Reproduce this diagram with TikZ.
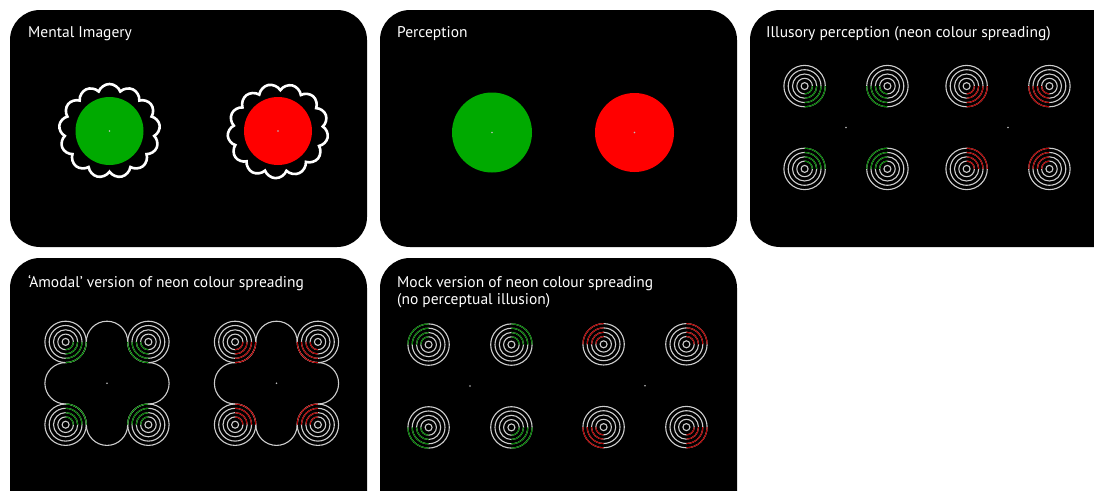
\documentclass[tikz,border=0pt]{standalone}
\usepackage{fontspec}
\setmainfont{PT Sans}
\usetikzlibrary{shapes.symbols}

\definecolor{panelbg}{RGB}{0,0,0}
\definecolor{ringgrey}{RGB}{205,205,205}
\definecolor{neongreen}{RGB}{0,125,0}
\definecolor{neonred}{RGB}{175,0,0}
\definecolor{discgreen}{RGB}{0,170,0}
\definecolor{discred}{RGB}{255,0,0}
\definecolor{dotgrey}{RGB}{190,190,190}

\tikzset{
  panel/.style={fill=panelbg, rounded corners=30pt},
  title/.style={anchor=base west, text=white, font=\fontsize{15.5}{17.5}\selectfont, inner sep=0pt, align=left},
  ring/.style={draw=ringgrey, line width=1.1pt},
  thought/.style={cloud, draw=white, line width=2.6pt, cloud puffs=13, cloud puff arc=140,
    aspect=1.07, minimum width=101pt, minimum height=94pt, inner sep=0pt},
  fixdot/.style={fill=dotgrey},
  % concentric rings, one quadrant (starting at angle #1) drawn in colour #2
  pics/target/.style 2 args={code={
    \foreach \r in {3.5,7.8,12.1,16.4,20.7}
      \draw[ring] (0,0) circle[radius=\r];
    \foreach \r in {7.8,12.1,16.4,20.7}
      \draw[ring, draw=#2] (#1:\r) arc[start angle=#1, end angle=#1+90, radius=\r];
  }},
  % four targets whose coloured quadrants face the middle
  pics/neon/.style={code={
    \pic at (-41.4,-41.4) {target={0}{#1}};
    \pic at (41.4,-41.4) {target={90}{#1}};
    \pic at (-41.4,41.4) {target={270}{#1}};
    \pic at (41.4,41.4) {target={180}{#1}};
    \fill[fixdot] (0,0) circle[radius=0.9];
  }},
  % four targets whose coloured quadrants face outwards
  pics/mock/.style={code={
    \pic at (-41.4,-41.4) {target={180}{#1}};
    \pic at (41.4,-41.4) {target={270}{#1}};
    \pic at (-41.4,41.4) {target={90}{#1}};
    \pic at (41.4,41.4) {target={0}{#1}};
    \fill[fixdot] (0,0) circle[radius=0.9];
  }},
  % outline of the occluding cross shape between the targets
  pics/occluder/.style={code={
    \draw[ring] (-20.7,-41.4) arc[start angle=180, end angle=360, radius=20.7]
      arc[start angle=180, end angle=90, radius=20.7]
      arc[start angle=270, end angle=450, radius=20.7]
      arc[start angle=270, end angle=180, radius=20.7]
      arc[start angle=0, end angle=180, radius=20.7]
      arc[start angle=0, end angle=-90, radius=20.7]
      arc[start angle=90, end angle=270, radius=20.7]
      arc[start angle=90, end angle=0, radius=20.7] -- cycle;
  }},
}

\begin{document}
\begin{tikzpicture}[x=1pt, y=-1pt]
\useasboundingbox (0,0) rectangle (1094,490);
\clip (0,0) rectangle (1094,490);
\fill[white] (0,0) rectangle (1094,490);

% panels
\fill[panel] (10,10) rectangle (367,247);
\fill[panel] (380,10) rectangle (737,247);
\fill[panel] (750,10) rectangle (1130,247);
\fill[panel] (10,258) rectangle (367,530);
\fill[panel] (380,258) rectangle (737,530);

% titles (a two-line node sits on the baseline of its last line)
\node[title] (t1) at (28,37) {Mental Imagery};
\node[title] (t2) at (397,37) {Perception};
\node[title] (t3) at (766,37) {Illusory perception (neon colour spreading)};
\node[title] (t4) at (28,287) {‘Amodal’ version of neon colour spreading};
\node[title] (t5) at (397,304.5) {Mock version of neon colour spreading\\(no perceptual illusion)};

% mental imagery
\node[thought] (c1) at (109.5,131) {};
\fill[discgreen] (109.5,131) circle[radius=34];
\fill[fixdot] (109.5,131) circle[radius=0.9];
\node[thought, rotate=12] (c2) at (278,131) {};
\fill[discred] (278,131) circle[radius=34];
\fill[fixdot] (278,131) circle[radius=0.9];

% perception
\fill[discgreen] (492,132.5) circle[radius=40];
\fill[fixdot] (492,132.5) circle[radius=0.9];
\fill[discred] (634.5,132.5) circle[radius=39.5];
\fill[fixdot] (634.5,132.5) circle[radius=0.9];

% illusory perception
\pic at (846,127.5) {neon=neongreen};
\pic at (1008,127.5) {neon=neonred};

% amodal version
\pic at (107,383.3) {occluder};
\pic at (107,383.3) {neon=neongreen};
\pic at (276.5,383.3) {occluder};
\pic at (276.5,383.3) {neon=neonred};

% mock version
\pic at (470,386) {mock=neongreen};
\pic at (645,385.7) {mock=neonred};
\end{tikzpicture}
\end{document}
